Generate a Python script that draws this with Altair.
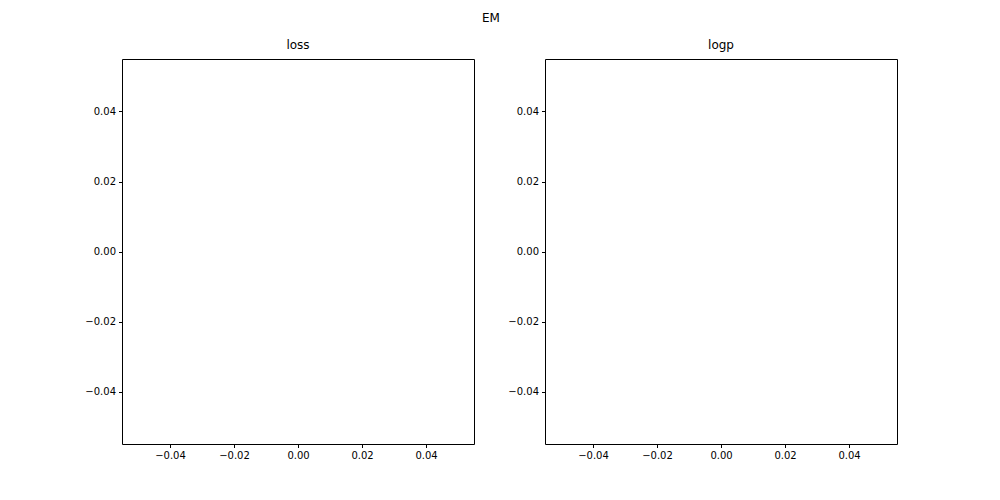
import altair as alt
import pandas as pd

# empty series, as in the reference
panel_titles = ["loss", "logp"]
xs = []
ys = []
tick_vals = [-0.04, -0.02, 0.0, 0.02, 0.04]
domain = [-0.055, 0.055]

df = pd.DataFrame({"x": pd.Series(xs, dtype=float), "y": pd.Series(ys, dtype=float)})


def panel(name):
    return alt.Chart(df).mark_line(color="#1f77b4").encode(
        x=alt.X("x:Q", title=None, scale=alt.Scale(domain=domain, nice=False, zero=False),
                axis=alt.Axis(values=tick_vals, format=".2f")),
        y=alt.Y("y:Q", title=None, scale=alt.Scale(domain=domain, nice=False, zero=False),
                axis=alt.Axis(values=tick_vals, format=".2f")),
    ).properties(width=352, height=385, title=name)


chart = alt.hconcat(*[panel(n) for n in panel_titles], spacing=71, bounds="flush").properties(
    title=alt.TitleParams("EM", anchor="middle", fontSize=12, fontWeight="normal", offset=14),
    padding={"left": 76, "top": 3, "right": 10, "bottom": 10},
).configure(font="DejaVu Sans").configure_view(
    stroke="black", strokeWidth=1
).configure_axis(
    grid=False, domain=False, tickColor="black", tickSize=3.5, labelColor="black",
    labelFontSize=10, labelFont="DejaVu Sans", labelPadding=3,
).configure_title(
    fontSize=12, fontWeight="normal", font="DejaVu Sans", color="black", offset=7
)

chart.save("out.html", embed_options={"renderer": "svg", "actions": False})
